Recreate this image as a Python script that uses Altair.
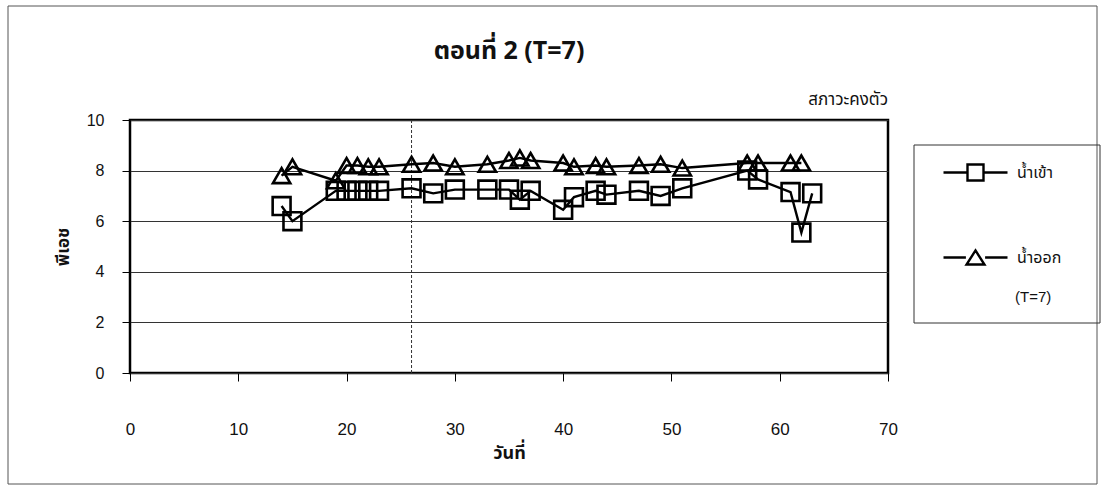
import altair as alt
import pandas as pd

# pH readings, stage 2 (T=7)
days_in = [14, 15, 19, 20, 21, 22, 23, 26, 28, 30, 33, 35, 36, 37, 40, 41, 43, 44, 47, 49, 51, 57, 58, 61, 62, 63]
ph_in = [6.6, 6.0, 7.2, 7.2, 7.2, 7.2, 7.2, 7.3, 7.1, 7.25, 7.25, 7.25, 6.85, 7.2, 6.45, 6.95, 7.2, 7.05, 7.2, 7.0, 7.3, 8.0, 7.65, 7.15, 5.55, 7.1]

days_out = [14, 15, 19, 20, 21, 22, 23, 26, 28, 30, 33, 35, 36, 37, 40, 41, 43, 44, 47, 49, 51, 57, 58, 61, 62]
ph_out = [7.8, 8.15, 7.6, 8.2, 8.2, 8.15, 8.15, 8.25, 8.3, 8.15, 8.25, 8.4, 8.5, 8.4, 8.3, 8.15, 8.2, 8.15, 8.2, 8.25, 8.1, 8.3, 8.3, 8.3, 8.3]

series_names = ["น้ำเข้า", "น้ำออก"]
steady_day = [26]
x_ticks = [0, 10, 20, 30, 40, 50, 60, 70]
y_ticks = [0, 2, 4, 6, 8, 10]

THAI = "Noto Sans Thai, Loma, Garuda, Tahoma, DejaVu Sans, sans-serif"
LATIN = "Liberation Sans, Arial, sans-serif"

df = pd.concat([
    pd.DataFrame({"day": days_in, "ph": ph_in, "series": series_names[0]}),
    pd.DataFrame({"day": days_out, "ph": ph_out, "series": series_names[1]}),
], ignore_index=True)

W, H = 758, 253

x_enc = alt.X("day:Q", scale=alt.Scale(domain=[0, 70], nice=False),
              axis=alt.Axis(values=x_ticks, title="วันที่", grid=False, domain=False,
                            tickSize=8, tickColor="black", labelPadding=40, labelFlush=False,
                            labelFont=LATIN, labelFontSize=17, labelColor="#111",
                            titleFont=THAI, titleFontSize=18, titleFontWeight="bold",
                            titlePadding=7, titleColor="#111"))
y_enc = alt.Y("ph:Q", scale=alt.Scale(domain=[0, 10], nice=False),
              axis=alt.Axis(values=y_ticks, title="พีเอช", grid=True, gridColor="#333",
                            gridWidth=1, domain=False, tickSize=8, tickColor="black",
                            labelPadding=18, labelFont=LATIN, labelFontSize=16,
                            labelColor="#111", titleFont=THAI, titleFontSize=17,
                            titleFontWeight="bold", titlePadding=14, titleColor="#111"))

base = alt.Chart(df)

lines = base.mark_line(color="black", strokeWidth=2.4).encode(
    x=x_enc, y=y_enc, detail="series:N", order="day:Q")

points = base.mark_point(filled=False, color="black", strokeWidth=2.6, opacity=1).encode(
    x="day:Q", y="ph:Q",
    shape=alt.Shape("series:N", scale=alt.Scale(domain=series_names, range=["square", "triangle-up"]), legend=None),
    size=alt.Size("series:N", scale=alt.Scale(domain=series_names, range=[320, 300]), legend=None),
)

# legend symbols: a line with the marker in its middle
legend_paths = [
    "M-1,0H-0.25M0.25,0H1M-0.25,-0.25H0.25V0.25H-0.25Z",
    "M-1,0H-0.3M0.3,0H1M0,-0.22L0.28,0.22L-0.28,0.22Z",
]
legend_layer = base.mark_point(filled=False, opacity=0).encode(
    x="day:Q", y="ph:Q",
    shape=alt.Shape("series:N", scale=alt.Scale(domain=series_names, range=legend_paths),
                    legend=alt.Legend(title=None, orient="none", legendX=784, legendY=-9,
                                      symbolSize=4096, symbolOpacity=1, symbolStrokeColor="black",
                                      symbolFillColor="transparent", symbolStrokeWidth=2.4,
                                      labelFont=THAI, labelFontSize=16, labelColor="#111",
                                      labelOffset=8, rowPadding=38, padding=28)),
)

# box around the legend entries
legend_box = alt.Chart(pd.DataFrame({"t": [0]})).mark_rect(
    fill=None, stroke="#333", strokeWidth=1).encode(
    x=alt.value(784), x2=alt.value(970), y=alt.value(25), y2=alt.value(203))

steady = alt.Chart(pd.DataFrame({"day": steady_day})).mark_rule(
    color="#333", strokeWidth=1, strokeDash=[3, 2]).encode(x="day:Q")

steady_label = alt.Chart(pd.DataFrame({"t": ["สภาวะคงตัว"]})).mark_text(
    align="right", baseline="middle", font=THAI, fontSize=17, color="#111").encode(
    text="t:N", x=alt.value(W), y=alt.value(-20))

t7_label = alt.Chart(pd.DataFrame({"t": ["(T=7)"]})).mark_text(
    align="left", baseline="middle", font=LATIN, fontSize=15, color="#111").encode(
    text="t:N", x=alt.value(885), y=alt.value(177))

frame = alt.Chart(pd.DataFrame({"t": [0]})).mark_rect(
    fill=None, stroke="#555", strokeWidth=1).encode(
    x=alt.value(-122), x2=alt.value(967), y=alt.value(-114), y2=alt.value(364))

chart = alt.layer(frame, legend_box, steady, lines, points, legend_layer, steady_label, t7_label).resolve_scale(
    shape="independent", size="independent"
).properties(
    width=W, height=H,
    title=alt.Title("ตอนที่ 2 (T=7)", font=THAI, fontSize=25, fontWeight="bold",
                    color="#111", anchor="middle", offset=0, dy=58, frame="group"),
    autosize=alt.AutoSizeParams(type="none"),
    padding={"left": 130, "top": 120, "right": 214, "bottom": 115},
    background="white",
).configure_view(stroke="black", strokeWidth=2.5)

chart.save("out.html", embed_options={"renderer": "svg", "actions": False})
